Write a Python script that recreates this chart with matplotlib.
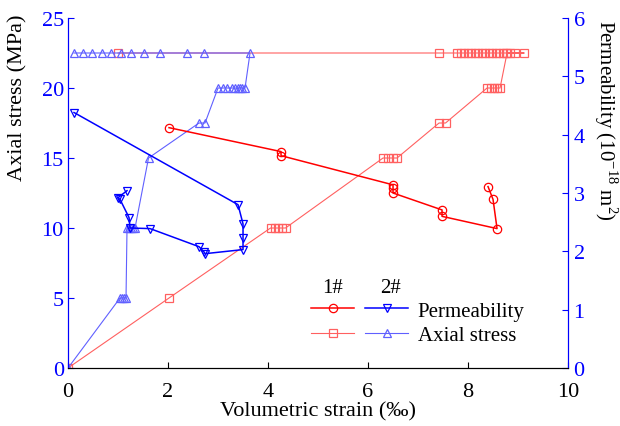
import matplotlib
matplotlib.use('Agg')
import matplotlib.pyplot as plt
from matplotlib.legend_handler import HandlerTuple

plt.rcParams['font.family'] = ['Liberation Serif', 'DejaVu Serif']
plt.rcParams['mathtext.fontset'] = 'custom'
plt.rcParams['mathtext.rm'] = 'Liberation Serif'

# 1# sample
strain_1_stress = [0, 2.02, 4.05, 4.13, 4.2, 4.28, 4.35, 6.3, 6.4, 6.5, 6.58, 7.42, 7.55,
                   8.38, 8.45, 8.52, 8.58, 8.64,
                   8.78, 8.83, 8.94, 9.12, 8.76, 8.69, 8.62, 8.55, 8.48, 8.41, 8.34, 8.27,
                   8.2, 8.13, 8.06, 7.99, 7.92, 7.85, 7.78, 7.42, 1.0]
stress_1 = [0, 5, 10, 10, 10, 10, 10, 15, 15, 15, 15, 17.5, 17.5,
            20, 20, 20, 20, 20,
            22.5, 22.5, 22.5, 22.5, 22.5, 22.5, 22.5, 22.5, 22.5, 22.5, 22.5, 22.5,
            22.5, 22.5, 22.5, 22.5, 22.5, 22.5, 22.5, 22.5, 22.5]
strain_1_perm = [2.02, 4.26, 4.26, 6.5, 6.5, 6.5, 7.48, 7.48, 8.58, 8.5, 8.4]
perm_1 = [4.12, 3.71, 3.64, 3.14, 3.09, 3.0, 2.71, 2.6, 2.39, 2.89, 3.11]

# 2# sample
strain_2_stress = [0, 1.04, 1.08, 1.12, 1.16, 1.18, 1.22, 1.26, 1.3, 1.34, 1.61, 2.62, 2.74,
                   3.0, 3.1, 3.18, 3.28, 3.34, 3.4, 3.44, 3.48, 3.54,
                   3.64, 2.72, 2.38, 1.84, 1.52, 1.26, 1.06, 0.86, 0.68, 0.48, 0.3, 0.12]
stress_2 = [0, 5, 5, 5, 5, 10, 10, 10, 10, 10, 15, 17.5, 17.5,
            20, 20, 20, 20, 20, 20, 20, 20, 20,
            22.5, 22.5, 22.5, 22.5, 22.5, 22.5, 22.5, 22.5, 22.5, 22.5, 22.5, 22.5]
strain_2_perm = [0.12, 3.4, 3.5, 3.5, 3.5, 2.74, 2.72, 2.62, 1.64, 1.24, 1.22, 1.04, 1.0, 1.18]
perm_2 = [4.38, 2.80, 2.47, 2.23, 2.03, 1.96, 1.99, 2.08, 2.39, 2.40, 2.58, 2.89, 2.92, 3.04]

red = '#ff0000'
red_l = '#ff6060'
blue = '#0000ff'
blue_l = '#6060ff'

fig = plt.figure(figsize=(6.2, 4.27), dpi=100)
ax = fig.add_axes([0.1097, 0.1358, 0.8065, 0.8197])
ax2 = ax.twinx()

mk = dict(markersize=6, markeredgewidth=0.9, fillstyle='none')
l1s, = ax.plot(strain_1_stress, stress_1, color=red_l, lw=0.8, marker='s', **mk)
l2s, = ax.plot(strain_2_stress, stress_2, color=blue_l, lw=0.8, marker='^', **mk)
l1p, = ax2.plot(strain_1_perm, perm_1, color=red, lw=1.1, marker='o', **mk)
l2p, = ax2.plot(strain_2_perm, perm_2, color=blue, lw=1.1, marker='v', **mk)

ax.set_xlim(0, 10)
ax.set_ylim(0, 25)
ax2.set_ylim(0, 6)
ax.set_xticks([0, 2, 4, 6, 8, 10])
ax.set_yticks([0, 5, 10, 15, 20, 25])
ax2.set_yticks([0, 1, 2, 3, 4, 5, 6])

for a in (ax, ax2):
    a.spines['top'].set_visible(False)
    a.spines['left'].set_color(blue)
    a.spines['right'].set_color(blue)
    a.spines['bottom'].set_color('black')
    a.tick_params(direction='in', labelsize=16, length=4)
ax.tick_params(axis='y', colors=blue, pad=3)
ax2.tick_params(axis='y', colors=blue, pad=4)
ax.tick_params(axis='x', colors='black', pad=10)

ax.set_xlabel('Volumetric strain (‰)', fontsize=16, va='center')
ax.xaxis.set_label_coords(0.5, -0.122)
ax.set_ylabel('Axial stress (MPa)', fontsize=16, va='center', ha='center')
ax.yaxis.set_label_coords(-0.1, 0.774)
ax2.set_ylabel('Permeability (10$^{-18}$ m$^2$)', fontsize=15, rotation=270,
               va='center', ha='center')
ax2.yaxis.set_label_coords(1.076, 0.71)

leg = ax2.legend([(l1p, l2p), (l1s, l2s)], ['Permeability', 'Axial stress'],
                 handler_map={tuple: HandlerTuple(ndivide=None, pad=0.53)},
                 handlelength=4.66, handletextpad=0.45, labelspacing=0.23,
                 loc='upper left', bbox_to_anchor=(0.47, 0.215), frameon=False,
                 fontsize=15, borderaxespad=0)
ax2.text(0.53, 0.231, '1#', transform=ax2.transAxes, ha='center', va='center', fontsize=15)
ax2.text(0.644, 0.231, '2#', transform=ax2.transAxes, ha='center', va='center', fontsize=15)

fig.savefig('out.png', dpi=100)
